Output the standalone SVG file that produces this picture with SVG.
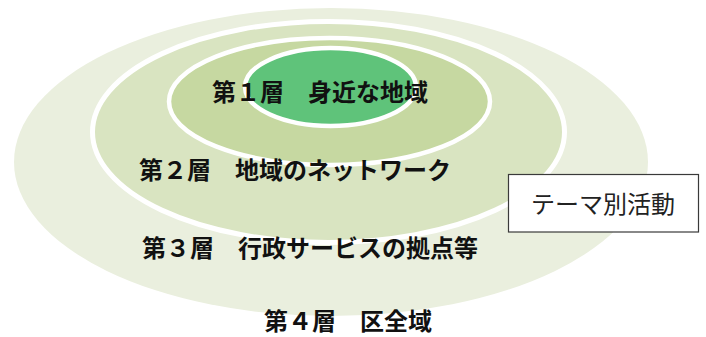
<svg xmlns="http://www.w3.org/2000/svg" width="706" height="337" viewBox="0 0 706 337">
  <style>
    .ring { stroke: #ffffff; }
    .lbl { font-family: "Noto Sans CJK JP", "Noto Sans CJK SC", sans-serif; font-size: 24px; font-weight: 700; fill: #111111; }
    .box { fill: #ffffff; stroke: #3a3a3a; stroke-width: 1.2; }
    .boxlbl { font-family: "Noto Sans CJK JP", "Noto Sans CJK SC", sans-serif; font-size: 24px; font-weight: 400; fill: #222222; text-anchor: middle; }
  </style>
  <rect width="706" height="337" fill="#ffffff"/>
  <g id="layer4">
    <ellipse cx="331" cy="162" rx="317" ry="154" fill="#eaefde"/>
  </g>
  <g id="layer3">
    <ellipse class="ring" cx="328.5" cy="132" rx="236" ry="110.5" fill="#d9e4c1" stroke-width="5"/>
  </g>
  <g id="layer2">
    <ellipse class="ring" cx="329.5" cy="101.5" rx="160.5" ry="63.5" fill="#c6d8a1" stroke-width="4.5"/>
  </g>
  <g id="layer1">
    <ellipse class="ring" cx="330.5" cy="87" rx="85.5" ry="39" fill="#5fc37a" stroke-width="4.5"/>
  </g>
  <g id="labels">
    <text id="label1" class="lbl" x="212" y="101">第１層　身近な地域</text>
    <text id="label2" class="lbl" x="139" y="179">第２層　地域のネットワーク</text>
    <text id="label3" class="lbl" x="142" y="257">第３層　行政サービスの拠点等</text>
    <text id="label4" class="lbl" x="264" y="330">第４層　区全域</text>
  </g>
  <g id="theme">
    <rect class="box" x="508.5" y="174.5" width="190" height="57.5"/>
    <text class="boxlbl" x="603" y="213">テーマ別活動</text>
  </g>
  <g id="connectors"/>
</svg>
